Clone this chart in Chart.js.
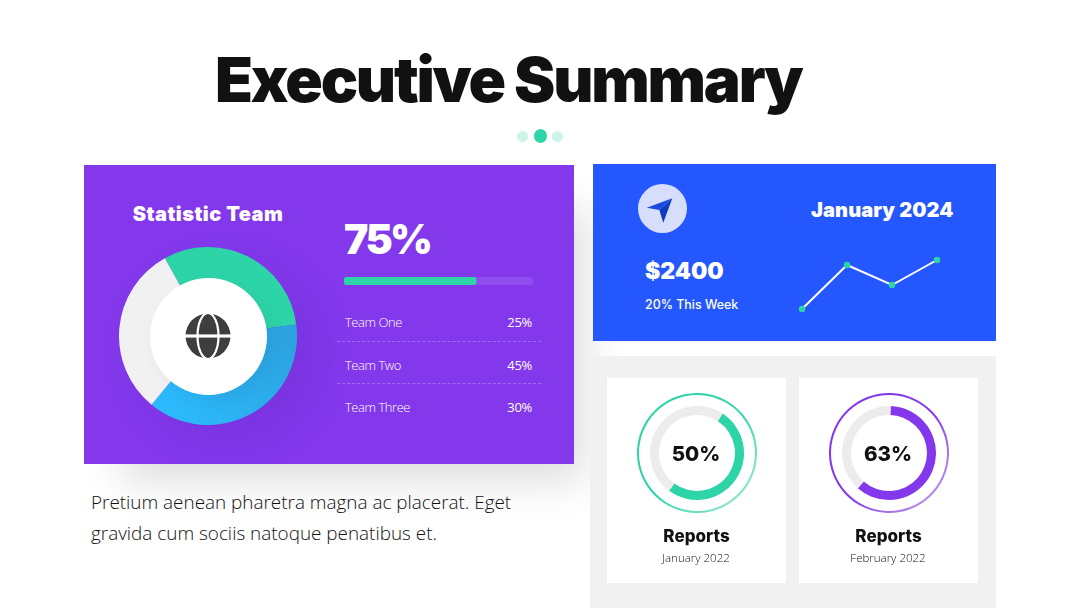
<!DOCTYPE html>
<html>
<head>
<meta charset="utf-8">
<title>Executive Summary</title>
<script src="https://cdn.jsdelivr.net/npm/chart.js@4"></script>
<style>
  html, body { margin: 0; padding: 0; background: #fff; }
  body { width: 1080px; height: 608px; position: relative; overflow: hidden; font-family: "Open Sans", sans-serif; }
  .abs, canvas { position: absolute; }
  .head { font-family: Inter, sans-serif; font-weight: 900; white-space: nowrap; }
  .mid { transform: translate(-50%, -50%); text-align: center; }
  .vmid { transform: translateY(-50%); white-space: nowrap; }
  .dash { position: absolute; left: 337px; width: 204px; border-top: 1px dashed rgba(255,255,255,.25); }
  .dot { position: absolute; border-radius: 50%; }
  .card { position: absolute; top: 378px; width: 179px; height: 205px; background: #fff; }
</style>
</head>
<body>
  <div class="abs head" id="title" style="left:215px;top:41px;font-size:62px;line-height:78px;letter-spacing:-2.2px;color:#111;">Executive Summary</div>
  <div class="dot" style="left:517px;top:131px;width:11px;height:11px;background:#cdf4e9"></div>
  <div class="dot" style="left:534px;top:129px;width:13px;height:14px;background:#2dd4a7"></div>
  <div class="dot" style="left:552px;top:131px;width:11px;height:11px;background:#cdf4e9"></div>

  <!-- panneau violet -->
  <div class="abs" style="left:84px;top:165px;width:490px;height:299px;background:#8338ec;box-shadow:24px 30px 40px -14px rgba(0,0,0,.14)"></div>
  <div class="abs head mid" style="left:208px;top:214px;font-size:20px;letter-spacing:.45px;color:#fff">Statistic Team</div>
  <div class="dot" style="left:119px;top:247px;width:178px;height:178px;box-shadow:20px 16px 40px rgba(40,10,90,.09)"></div>
  <canvas id="teamChart" width="178" height="178" style="left:119px;top:247px;width:178px;height:178px"></canvas>
  <div class="dot" style="left:150px;top:278px;width:117px;height:117px;background:#fff;box-shadow:6px 6px 18px rgba(0,0,0,.05)"></div>
  <svg class="abs" style="left:185px;top:313px" width="46" height="46" viewBox="-23 -23 46 46">
    <circle r="22.5" fill="#3e3e3e"/>
    <ellipse rx="10.5" ry="23" fill="none" stroke="#fff" stroke-width="2.2"/>
    <rect x="-23" y="-1.6" width="46" height="3.2" fill="#fff"/>
  </svg>

  <div class="abs head vmid" style="left:344px;top:239px;font-size:41px;letter-spacing:-2.6px;color:#fff">75%</div>
  <canvas id="progressChart" width="189" height="8" style="left:344px;top:277px;width:189px;height:8px"></canvas>
  <div id="teamRows"></div>
  <div class="dash" style="top:341px"></div>
  <div class="dash" style="top:383px"></div>

  <div class="abs" style="left:91px;top:487px;font-size:18.9px;line-height:31px;font-weight:300;color:#111;white-space:nowrap">Pretium aenean pharetra magna ac placerat. Eget<br>gravida cum sociis natoque penatibus et.</div>

  <!-- panneau bleu -->
  <div class="abs" style="left:593px;top:164px;width:403px;height:177px;background:#2457fd"></div>
  <div class="dot" style="left:638px;top:184px;width:49px;height:49px;background:#d6defc"></div>
  <svg class="abs" style="left:638px;top:184px" width="49" height="49" viewBox="638 184 49 49">
    <polygon points="672.3,198.3 646.7,207.7 659.3,210" fill="#1a4be0"/>
    <polygon points="672.3,198.3 659.3,210 663.3,222.7" fill="#0c3cc4"/>
  </svg>
  <div class="abs head vmid" style="left:811px;top:210px;font-size:20px;letter-spacing:.1px;color:#fff">January 2024</div>
  <div class="abs head vmid" style="left:645px;top:271px;font-size:23px;color:#fff">$2400</div>
  <div class="abs vmid" style="left:645px;top:304px;font-family:Inter,sans-serif;font-weight:500;font-size:12.4px;color:#fff">20% This Week</div>
  <canvas id="trendChart" width="155" height="70" style="left:792px;top:250px;width:155px;height:70px"></canvas>

  <!-- panneau gris -->
  <div class="abs" style="left:590px;top:356px;width:406px;height:252px;background:#f1f1f1"></div>
  <div class="card" style="left:607px"></div>
  <div class="card" style="left:799px"></div>
  <canvas id="gaugeA" width="120" height="120" style="left:637px;top:393px;width:120px;height:120px"></canvas>
  <canvas id="gaugeB" width="120" height="120" style="left:829px;top:393px;width:120px;height:120px"></canvas>
  <div id="gaugeText"></div>

<script>
const TEAM_NAMES = ["Team One", "Team Two", "Team Three"];
const TEAM_LABELS = ["25%", "45%", "30%"];
const TEAM_SLICES = [31, 38, 31];

const PROGRESS_VALUE = [70];
const PROGRESS_TOTAL = [100];

const TREND_LABELS = ["S1", "S2", "S3", "S4"];
const TREND_VALUES = [1, 45, 25, 50];

const GAUGE_TITLES = ["Reports", "Reports"];
const GAUGE_DATES = ["January 2022", "February 2022"];
const GAUGE_LABELS = ["50%", "63%"];
const GAUGE_FILLED = [51, 61];

Chart.defaults.animation = false;
Chart.defaults.responsive = false;
Chart.defaults.plugins.legend.display = false;
Chart.defaults.plugins.tooltip.enabled = false;

// textes des lignes d'equipe
const rows = document.getElementById("teamRows");
TEAM_NAMES.forEach((name, i) => {
  const top = [322, 365, 407][i];
  rows.innerHTML +=
    `<div class="abs vmid" style="left:345px;top:${top}px;font-size:13px;font-weight:300;color:#fff;letter-spacing:-.45px">${name}</div>` +
    `<div class="abs vmid" style="right:548px;top:${top}px;font-size:13px;color:#fff;letter-spacing:-.3px">${TEAM_LABELS[i]}</div>`;
});

// anneau principal
new Chart(document.getElementById("teamChart"), {
  type: "doughnut",
  data: {
    labels: TEAM_NAMES,
    datasets: [{
      data: TEAM_SLICES,
      backgroundColor: (c) => {
        if (c.dataIndex === 0) return "#2dd4a7";
        if (c.dataIndex === 2) return "#f1f1f1";
        const g = c.chart.ctx.createLinearGradient(40, 170, 178, 70);
        g.addColorStop(0, "#2cbcff");
        g.addColorStop(1, "#2ca0dc");
        return g;
      },
      borderWidth: 0,
    }],
  },
  options: { cutout: 56, rotation: -29, layout: { padding: 0 } },
});

// barre de progression
new Chart(document.getElementById("progressChart"), {
  type: "bar",
  data: {
    labels: ["Progress"],
    datasets: [
      { data: PROGRESS_VALUE, backgroundColor: "#2dd4a7", borderRadius: 4, borderSkipped: false, grouped: false },
      { data: PROGRESS_TOTAL, backgroundColor: "rgba(255,255,255,.1)", borderRadius: 4, borderSkipped: false, grouped: false },
    ],
  },
  options: {
    indexAxis: "y",
    layout: { padding: 0 },
    barPercentage: 1,
    categoryPercentage: 1,
    scales: {
      x: { display: false, min: 0, max: 100 },
      y: { display: false },
    },
  },
});

// courbe de la semaine
new Chart(document.getElementById("trendChart"), {
  type: "line",
  data: {
    labels: TREND_LABELS,
    datasets: [{
      data: TREND_VALUES,
      borderColor: "#fff",
      borderWidth: 2,
      tension: 0,
      clip: false,
      pointRadius: 3.2,
      pointBackgroundColor: "#2dd4a7",
      pointBorderWidth: 0,
    }],
  },
  options: {
    layout: { padding: 10 },
    scales: {
      x: { display: false },
      y: { display: false, min: 0, max: 50 },
    },
  },
});

// jauges du bas
function makeGauge(id, filled, color, light, rotation) {
  new Chart(document.getElementById(id), {
    type: "doughnut",
    data: {
      labels: ["Filled", "Rest"],
      datasets: [
        {
          data: [1],
          weight: 2,
          borderWidth: 0,
          backgroundColor: (c) => {
            const g = c.chart.ctx.createLinearGradient(20, 20, 110, 110);
            g.addColorStop(0.45, color);
            g.addColorStop(1, light);
            return g;
          },
        },
        { data: [1], weight: 11, borderWidth: 0, backgroundColor: "transparent" },
        { data: [filled, 100 - filled], weight: 9, borderWidth: 0, backgroundColor: [color, "#ececec"] },
      ],
    },
    options: { cutout: 38, rotation: rotation, layout: { padding: 0 } },
  });
}
makeGauge("gaugeA", GAUGE_FILLED[0], "#2dd4a7", "#97e8d2", 33);
makeGauge("gaugeB", GAUGE_FILLED[1], "#8338ec", "#bd98ee", 2);

const gaugeText = document.getElementById("gaugeText");
[697, 889].forEach((x, i) => {
  gaugeText.innerHTML +=
    `<div class="abs head mid" style="left:${x - 1}px;top:453px;font-size:20.5px;font-weight:800;color:#111">${GAUGE_LABELS[i]}</div>` +
    `<div class="abs head mid" style="left:${x - 0.5}px;top:536px;font-size:17px;font-weight:800;color:#111">${GAUGE_TITLES[i]}</div>` +
    `<div class="abs mid" style="left:${x - 1}px;top:557px;font-size:11.5px;font-weight:300;color:#111;white-space:nowrap">${GAUGE_DATES[i]}</div>`;
});
</script>
</body>
</html>
